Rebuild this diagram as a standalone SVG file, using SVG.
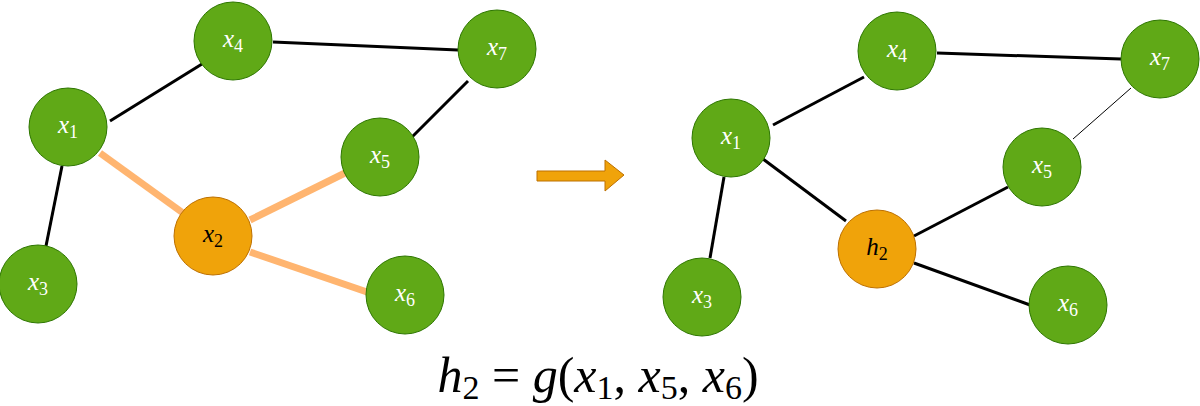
<svg xmlns="http://www.w3.org/2000/svg" width="1200" height="406" viewBox="0 0 1200 406">
<style>
.g{fill:#60a917;stroke:#2d7600;stroke-width:1}
.o{fill:#f0a30a;stroke:#bd7000;stroke-width:1}
.lbl{font-family:"Liberation Serif","Times New Roman",serif;font-style:italic;font-size:25px;text-anchor:middle}
.w{fill:#ffffff}
.k{fill:#000000}
.sub{font-style:normal;font-size:18px}
.e{stroke:#000;stroke-width:3;fill:none}
.eo{stroke:#ffb570;stroke-width:7;fill:none}
.math{font-family:"Liberation Serif","Times New Roman",serif;font-size:50px;fill:#000}
</style>
<rect width="1200" height="406" fill="#ffffff"/>
<g id="connectors">
<line class="e" x1="110" y1="121" x2="202" y2="64"/>
<line class="e" x1="273" y1="42" x2="458" y2="50"/>
<line class="e" x1="468" y1="81" x2="409" y2="140"/>
<line class="e" x1="62" y1="166" x2="46" y2="246"/>
<line class="eo" x1="100" y1="153" x2="183" y2="213"/>
<line class="eo" x1="250" y1="220" x2="345" y2="173"/>
<line class="eo" x1="250" y1="252" x2="367" y2="292"/>
<line class="e" x1="773" y1="125" x2="864" y2="77"/>
<line class="e" x1="937" y1="53" x2="1121" y2="59"/>
<line stroke="#000" stroke-width="1" x1="1131" y1="88" x2="1073" y2="139"/>
<line class="e" x1="724" y1="177" x2="710" y2="258"/>
<line class="e" x1="763" y1="159" x2="846" y2="221"/>
<line class="e" x1="914" y1="236" x2="1008" y2="187"/>
<line class="e" x1="914" y1="263" x2="1030" y2="305"/>
<path d="M537,171 H605 V160 L624,175 L605,191 V181 H537 Z" fill="#f0a30a" stroke="#bd7000" stroke-width="1"/>
</g>
<g id="L_x4"><circle class="g" cx="233" cy="41" r="39"/><text class="lbl w" x="233" y="47">x<tspan class="sub" dy="5">4</tspan></text></g>
<g id="L_x7"><circle class="g" cx="497" cy="49" r="39"/><text class="lbl w" x="497" y="55">x<tspan class="sub" dy="5">7</tspan></text></g>
<g id="L_x1"><circle class="g" cx="68" cy="127" r="39"/><text class="lbl w" x="68" y="133">x<tspan class="sub" dy="5">1</tspan></text></g>
<g id="L_x5"><circle class="g" cx="380" cy="157" r="39"/><text class="lbl w" x="380" y="163">x<tspan class="sub" dy="5">5</tspan></text></g>
<g id="L_x2"><circle class="o" cx="213" cy="236" r="39"/><text class="lbl k" x="213" y="242">x<tspan class="sub" dy="5">2</tspan></text></g>
<g id="L_x3"><circle class="g" cx="38" cy="284" r="39"/><text class="lbl w" x="38" y="290">x<tspan class="sub" dy="5">3</tspan></text></g>
<g id="L_x6"><circle class="g" cx="405" cy="295" r="39"/><text class="lbl w" x="405" y="301">x<tspan class="sub" dy="5">6</tspan></text></g>
<g id="R_x4"><circle class="g" cx="897" cy="51" r="39"/><text class="lbl w" x="897" y="57">x<tspan class="sub" dy="5">4</tspan></text></g>
<g id="R_x7"><circle class="g" cx="1160" cy="59" r="39"/><text class="lbl w" x="1160" y="65">x<tspan class="sub" dy="5">7</tspan></text></g>
<g id="R_x1"><circle class="g" cx="731" cy="138" r="39"/><text class="lbl w" x="731" y="144">x<tspan class="sub" dy="5">1</tspan></text></g>
<g id="R_x5"><circle class="g" cx="1042" cy="167" r="39"/><text class="lbl w" x="1042" y="173">x<tspan class="sub" dy="5">5</tspan></text></g>
<g id="R_h2"><circle class="o" cx="877" cy="249" r="39"/><text class="lbl k" x="877" y="255">h<tspan class="sub" dy="5">2</tspan></text></g>
<g id="R_x3"><circle class="g" cx="702" cy="297" r="39"/><text class="lbl w" x="702" y="303">x<tspan class="sub" dy="5">3</tspan></text></g>
<g id="R_x6"><circle class="g" cx="1068" cy="305" r="39"/><text class="lbl w" x="1068" y="311">x<tspan class="sub" dy="5">6</tspan></text></g>
<g id="formula">
<text class="math" x="598" y="392" text-anchor="middle"><tspan font-style="italic">h</tspan><tspan font-size="34" dy="7">2</tspan><tspan dy="-7"> = </tspan><tspan font-style="italic">g</tspan>(<tspan font-style="italic">x</tspan><tspan font-size="34" dy="7">1</tspan><tspan dy="-7">, </tspan><tspan font-style="italic">x</tspan><tspan font-size="34" dy="7">5</tspan><tspan dy="-7">, </tspan><tspan font-style="italic">x</tspan><tspan font-size="34" dy="7">6</tspan><tspan dy="-7">)</tspan></text>
</g>
</svg>
